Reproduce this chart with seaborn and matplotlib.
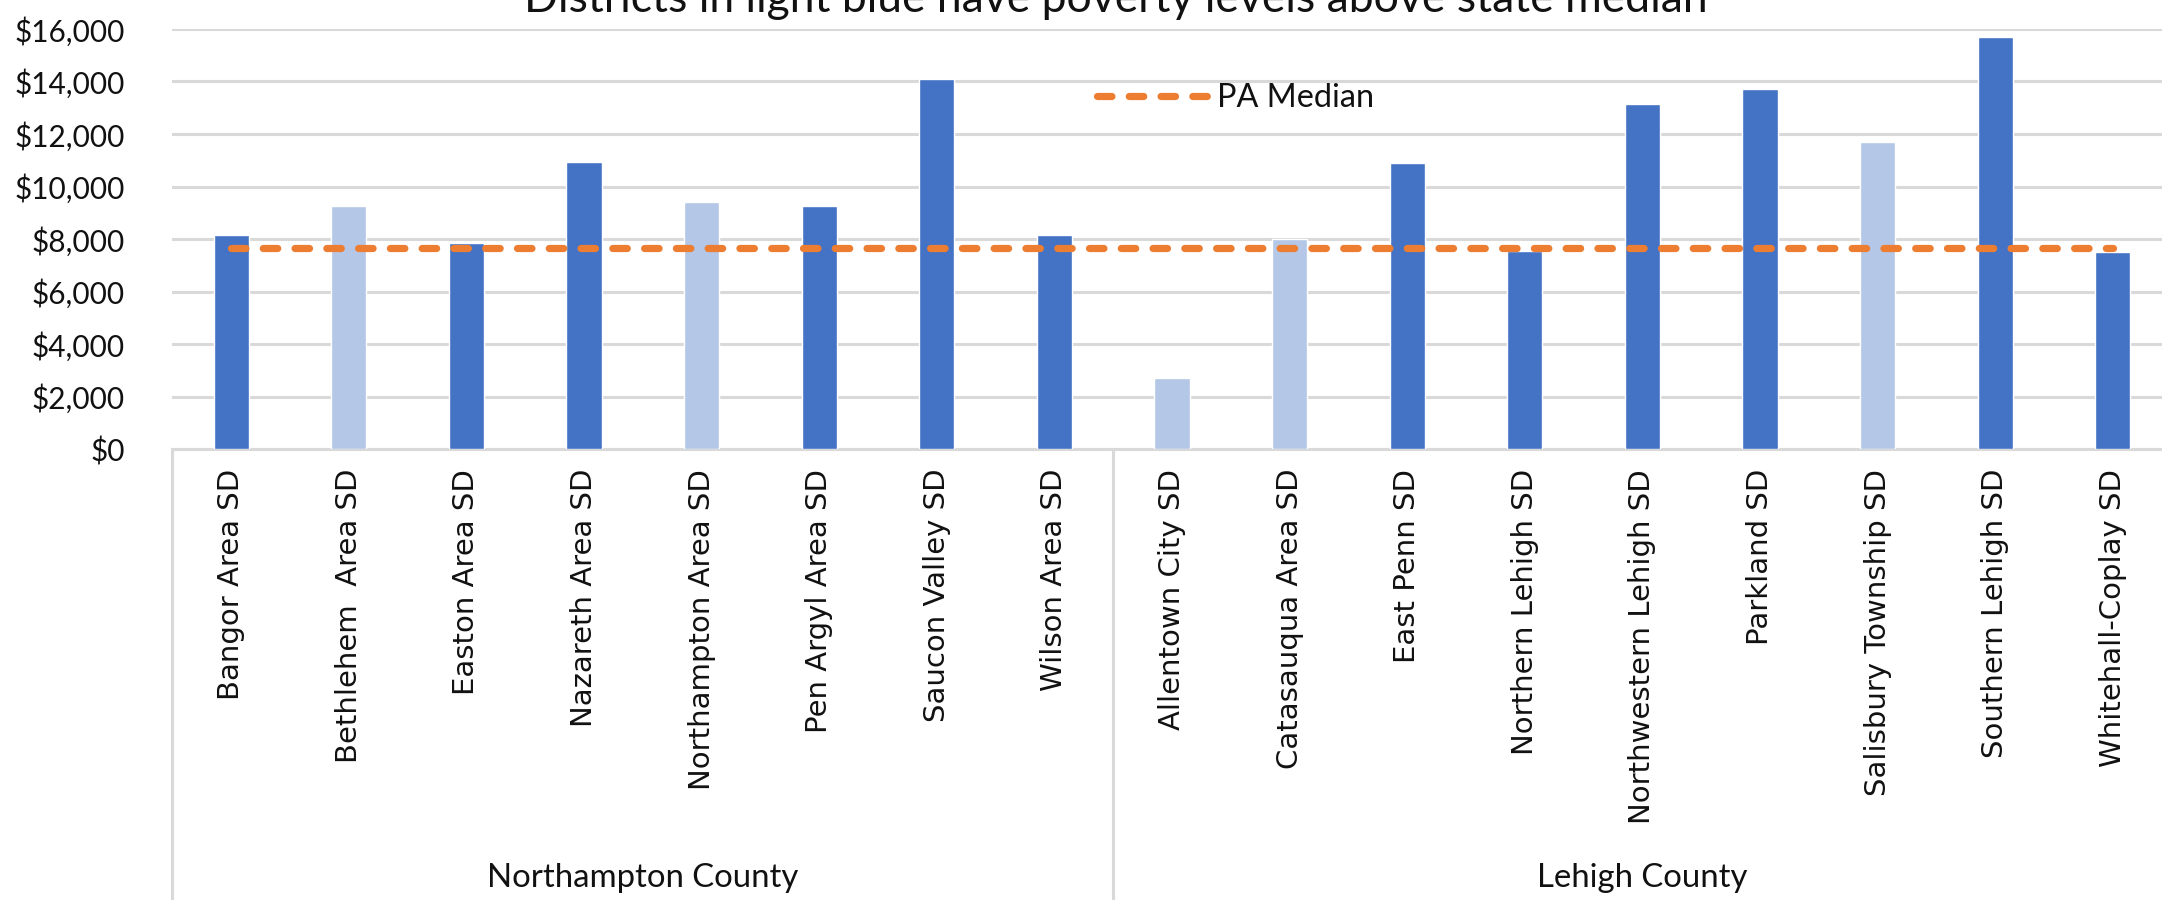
# Per-student spending by school district, Northampton and Lehigh counties
import matplotlib
matplotlib.use('Agg')
import matplotlib.pyplot as plt
import matplotlib.transforms as mtransforms
import seaborn as sns

# Data
northampton = ['Bangor Area SD', 'Bethlehem  Area SD', 'Easton Area SD', 'Nazareth Area SD',
               'Northampton Area SD', 'Pen Argyl Area SD', 'Saucon Valley SD', 'Wilson Area SD']
lehigh = ['Allentown City SD', 'Catasauqua Area SD', 'East Penn SD', 'Northern Lehigh SD',
          'Northwestern Lehigh SD', 'Parkland SD', 'Salisbury Township SD', 'Southern Lehigh SD',
          'Whitehall-Coplay SD']
districts = northampton + lehigh
spending = [8150, 9250, 7850, 10950, 9400, 9250, 14100, 8150,
            2700, 8000, 10900, 7550, 13150, 13700, 11700, 15700, 7500]
high_poverty = [False, True, False, False, True, False, False, False,
                True, True, False, False, False, False, True, False, False]
counties = ['Northampton County', 'Lehigh County']
pa_median = 7650
title = 'Districts in light blue have poverty levels above state median'

sns.set_theme(style='white')
plt.rcParams['font.family'] = ['Lato', 'DejaVu Sans']
plt.rcParams['text.color'] = '#111111'
plt.rcParams['xtick.color'] = '#111111'
plt.rcParams['ytick.color'] = '#111111'

fig = plt.figure(figsize=(21.62, 9), dpi=100)
ax = fig.add_axes([125 / 1568, 1 - 326 / 653, 1450 / 1568, 305 / 653])

poverty_label = ['above' if p else 'below' for p in high_poverty]
sns.barplot(x=districts, y=spending, hue=poverty_label,
            palette={'below': '#4472C4', 'above': '#B4C7E7'},
            dodge=False, width=0.3, legend=False, saturation=1, ax=ax, zorder=3)

# state median line
ax.plot(range(len(districts)), [pa_median] * len(districts), color='#ED7D31',
        lw=5.2, linestyle=(0, (2.0, 2.4)), dash_capstyle='round',
        label='PA Median', zorder=4)

ax.set_ylim(0, 16000)
ax.set_xlim(-0.5, len(districts) - 0.5)
ax.set_yticks(range(0, 16001, 2000))
ax.set_yticklabels(['${:,}'.format(v) for v in range(0, 16001, 2000)], fontsize=21.4)
ax.yaxis.grid(True, color='#D9D9D9', lw=2.2, zorder=0)
ax.tick_params(axis='y', length=0, pad=34)
ax.tick_params(axis='x', length=0, pad=14)
ax.set_xticks(range(len(districts)))
ax.set_xticklabels(districts, rotation=90, fontsize=21, family='DejaVu Sans')
for s in ['left', 'right', 'top']:
    ax.spines[s].set_visible(False)
ax.spines['bottom'].set_color('#D9D9D9')
ax.spines['bottom'].set_linewidth(2.2)

# group separators and county labels below the category axis
trans = mtransforms.blended_transform_factory(ax.transData, ax.transAxes)
for xpos in [-0.5, len(northampton) - 0.5, len(districts) - 0.5]:
    ax.plot([xpos, xpos], [0, -1.3], color='#D9D9D9', lw=2.2, transform=trans, clip_on=False)
ax.text((len(northampton) - 1) / 2, -1.02, counties[0], transform=trans,
        ha='center', va='center', fontsize=23.7)
ax.text(len(northampton) + (len(lehigh) - 1) / 2, -1.02, counties[1], transform=trans,
        ha='center', va='center', fontsize=23.7)

ax.legend(loc='center left', bbox_to_anchor=(0.4624, 0.836), frameon=False,
          fontsize=23.3, handlelength=3.4, handletextpad=0.31,
          borderpad=0, borderaxespad=0)

fig.text(809 / 1568, 1 - 12 / 900, title, ha='center', va='baseline', fontsize=32)

fig.savefig('out.png', dpi=100)
